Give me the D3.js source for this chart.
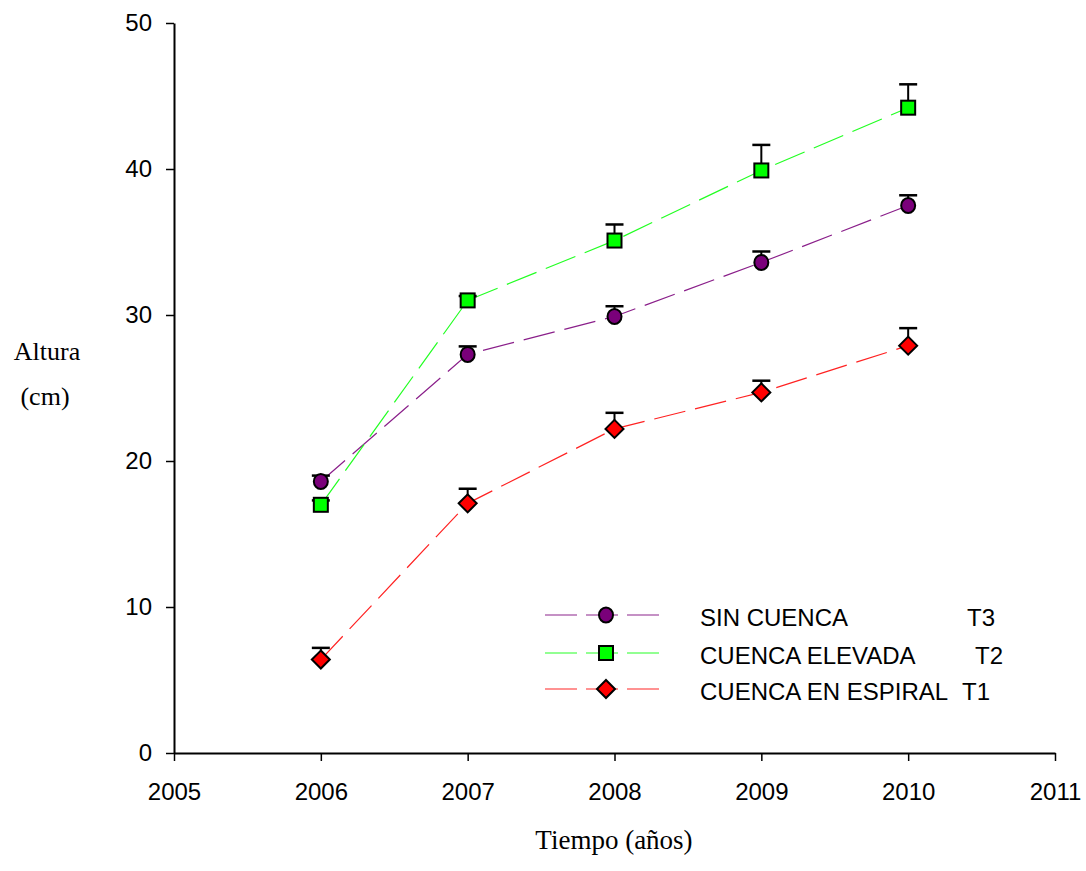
<!DOCTYPE html>
<html>
<head>
<meta charset="utf-8">
<script src="https://cdn.jsdelivr.net/npm/d3@7"></script>
<style>
  body { margin: 0; background: #fff; }
  .tick text { font-family: "Liberation Sans", Arial, sans-serif; }
</style>
</head>
<body>
<div id="chart"></div>
<script>
// years on the x axis
var years = [2006, 2007, 2008, 2009, 2010];
// series values (altura, cm) and upper error
var sinCuenca = [18.6, 27.3, 29.9, 33.6, 37.5];
var sinCuencaErr = [0.4, 0.55, 0.7, 0.75, 0.7];
var cuencaElevada = [17.0, 31.0, 35.1, 39.9, 44.2];
var cuencaElevadaErr = [0.3, 0.3, 1.1, 1.75, 1.6];
var cuencaEspiral = [6.4, 17.1, 22.2, 24.7, 27.9];
var cuencaEspiralErr = [0.8, 1.0, 1.1, 0.8, 1.2];
var xTicks = [2005, 2006, 2007, 2008, 2009, 2010, 2011];
var yTicks = [0, 10, 20, 30, 40, 50];

var width = 1086, height = 871;
var margin = { left: 174, right: 31, top: 23, bottom: 118 };

var svg = d3.select("#chart").append("svg")
    .attr("width", width)
    .attr("height", height);

var x = d3.scaleLinear().domain([2005, 2011]).range([margin.left, width - margin.right]);
var y = d3.scaleLinear().domain([0, 50]).range([height - margin.bottom, margin.top]);

// axes
var xAxis = svg.append("g")
    .attr("transform", "translate(0," + y(0) + ")")
    .call(d3.axisBottom(x).tickValues(xTicks).tickFormat(d3.format("d")).tickSize(8).tickPadding(22).tickSizeOuter(0));
var yAxis = svg.append("g")
    .attr("transform", "translate(" + x(2005) + ",0)")
    .call(d3.axisLeft(y).tickValues(yTicks).tickSize(8).tickPadding(14).tickSizeOuter(0));

[xAxis, yAxis].forEach(function (g) {
    g.select(".domain").attr("stroke", "#000").attr("stroke-width", 2);
    g.selectAll(".tick line").attr("stroke", "#000").attr("stroke-width", 1.5);
    g.selectAll(".tick text").attr("font-size", 24).attr("fill", "#000");
});

// axis titles
var serif = "'Liberation Serif', 'Times New Roman', serif";
svg.append("text").attr("x", 47).attr("y", 360).attr("text-anchor", "middle")
    .attr("font-family", serif).attr("font-size", 26).text("Altura");
svg.append("text").attr("x", 45).attr("y", 405).attr("text-anchor", "middle")
    .attr("font-family", serif).attr("font-size", 26).text("(cm)");
svg.append("text").attr("x", 614).attr("y", 849).attr("text-anchor", "middle")
    .attr("font-family", serif).attr("font-size", 27).text("Tiempo (años)");

var series = [
    { name: "SIN CUENCA", tag: "T3", values: sinCuenca, err: sinCuencaErr, line: "#8a1f8a", fill: "#7a007a", shape: "circle", tagX: 967 },
    { name: "CUENCA ELEVADA", tag: "T2", values: cuencaElevada, err: cuencaElevadaErr, line: "#22ff22", fill: "#00ff00", shape: "square", tagX: 975 },
    { name: "CUENCA EN ESPIRAL", tag: "T1", values: cuencaEspiral, err: cuencaEspiralErr, line: "#ff2222", fill: "#ff0000", shape: "diamond", tagX: 962 }
];

function drawMarker(g, shape, fill) {
    if (shape === "circle") {
        g.append("ellipse").attr("rx", 7).attr("ry", 7.5);
    } else if (shape === "square") {
        g.append("rect").attr("x", -7).attr("y", -7).attr("width", 14).attr("height", 14);
    } else {
        g.append("path").attr("d", "M0,-9L9,0L0,9L-9,0Z");
    }
    g.selectAll("*").attr("fill", fill).attr("stroke", "#000").attr("stroke-width", 2);
}

var line = d3.line()
    .x(function (d, i) { return x(years[i]); })
    .y(function (d) { return y(d); });

series.forEach(function (s) {
    svg.append("path")
        .attr("d", line(s.values))
        .attr("fill", "none")
        .attr("stroke", s.line)
        .attr("stroke-width", 1.2)
        .attr("stroke-dasharray", "32,10");
});

series.forEach(function (s) {
    // error bars (upper only)
    s.values.forEach(function (v, i) {
        var cx = x(years[i]);
        svg.append("line").attr("x1", cx).attr("x2", cx)
            .attr("y1", y(v)).attr("y2", y(v + s.err[i]))
            .attr("stroke", "#000").attr("stroke-width", 2);
        svg.append("line").attr("x1", cx - 9).attr("x2", cx + 9)
            .attr("y1", y(v + s.err[i])).attr("y2", y(v + s.err[i]))
            .attr("stroke", "#000").attr("stroke-width", 2.5);
    });
    s.values.forEach(function (v, i) {
        var g = svg.append("g").attr("transform", "translate(" + x(years[i]) + "," + y(v) + ")");
        drawMarker(g, s.shape, s.fill);
    });
});

// legend
var legendY = [615, 653, 689];
var sans = "'Liberation Sans', Arial, sans-serif";
series.forEach(function (s, i) {
    var ly = legendY[i];
    svg.append("line").attr("x1", 545).attr("x2", 659).attr("y1", ly).attr("y2", ly)
        .attr("stroke", s.line).attr("stroke-opacity", 0.65).attr("stroke-width", 1.5)
        .attr("stroke-dasharray", "32,9");
    var g = svg.append("g").attr("transform", "translate(606," + ly + ")");
    drawMarker(g, s.shape, s.fill);
    svg.append("text").attr("x", 700).attr("y", ly + 11)
        .attr("font-family", sans).attr("font-size", 24).text(s.name);
    svg.append("text").attr("x", s.tagX).attr("y", ly + 11)
        .attr("font-family", sans).attr("font-size", 24).text(s.tag);
});
</script>
</body>
</html>
